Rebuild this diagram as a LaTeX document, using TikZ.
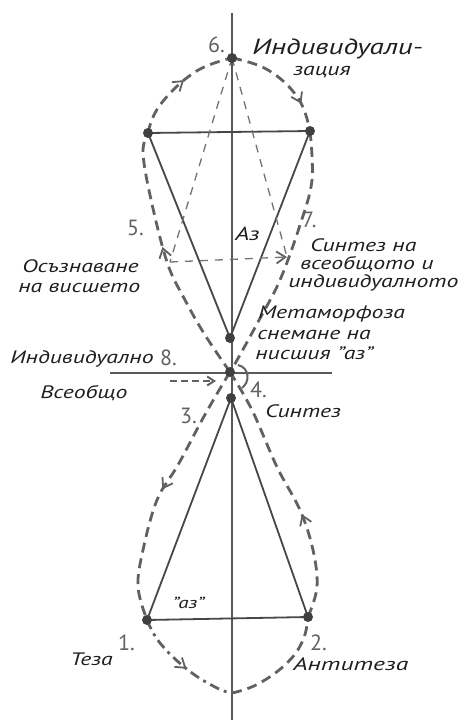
\documentclass[tikz,border=0pt]{standalone}
\usepackage{fontspec}
\setmainfont{PT Sans}
\usetikzlibrary{decorations.markings,arrows.meta}
\begin{document}
\begin{tikzpicture}[x=1pt,y=-1pt,
  solidline/.style={line width=1.8pt, draw=black!72},
  axisline/.style={line width=1.3pt, draw=black!65},
  thindash/.style={line width=1.3pt, draw=black!55, dash pattern=on 8pt off 7pt},
  loopline/.style={line width=2.8pt, draw=black!62, dash pattern=on 10pt off 6pt},
  dashdot/.style={line width=2.8pt, draw=black!62, dash pattern=on 10pt off 5pt on 3pt off 5pt},
  dot/.style={circle, fill=black!75, inner sep=0pt, minimum size=10pt},
  lbl/.style={font=\itshape\fontsize{18}{18}\selectfont, text=black!88, inner sep=0pt, anchor=base west, xscale=1.32, transform shape},
  num/.style={font=\fontsize{22}{22}\selectfont, text=black!62, inner sep=0pt, anchor=base west},
  barb/.style={line width=1.8pt, draw=black!62},
  midarrow/.style={postaction={decorate}, decoration={markings, mark=at position #1 with {\arrow[barb]{Straight Barb[length=9pt,width=12pt]}}}}
]
\useasboundingbox (0,0) rectangle (467,720);
% key points
\coordinate (axT) at (232,13);
\coordinate (axB) at (232,720);
\coordinate (hL) at (110,373);
\coordinate (hR) at (332,373);
\coordinate (top) at (232,58);
\coordinate (TL) at (148,133);
\coordinate (TR) at (310,131);
\coordinate (A) at (230,338);
\coordinate (C) at (230,372);
\coordinate (B) at (231,398);
\coordinate (BL) at (147,620);
\coordinate (BR) at (308,617);
\coordinate (bot) at (232,693);
\coordinate (L5) at (170,262);
\coordinate (R7) at (287,257);
\coordinate (sa) at (170,381);
\coordinate (sb) at (216,381);

% axes
\draw[axisline] (axT) -- (axB);
\draw[axisline] (hL) -- (hR);

% triangles
\draw[solidline] (TL) -- (TR) -- (A) -- cycle;
\draw[solidline] (B) -- (BL) -- (BR) -- cycle;

% inner thin dashed
\draw[thindash] (top) -- (L5);
\draw[thindash] (top) -- (R7);
\draw[thindash, midarrow=1] (L5) -- (R7);

% upper loop
\draw[loopline, midarrow=0.55] plot[smooth, tension=0.6] coordinates {(C) (205,335) (185,300) (167,262) (150,195) (143,152) (TL)};
\draw[loopline, midarrow=0.55] plot[smooth, tension=0.7] coordinates {(TL) (160,105) (195,72) (top)};
\draw[loopline, midarrow=0.75] plot[smooth, tension=0.7] coordinates {(top) (268,70) (298,98) (TR)};
\draw[loopline] plot[smooth, tension=0.6] coordinates {(TR) (312,180) (300,225) (280,280) (258,322) (236,362) (C)};

% lower loop
\draw[loopline, midarrow=0.5] plot[smooth, tension=0.6] coordinates {(C) (218,392) (202,420) (178,465) (157,500) (143,550) (138,587) (BL)};
\draw[dashdot, midarrow=0.55] plot[smooth, tension=0.7] coordinates {(BL) (160,643) (188,670) (217,688) (bot)};
\draw[loopline] plot[smooth, tension=0.7] coordinates {(bot) (258,684) (287,663) (303,640) (BR)};
\draw[loopline, midarrow=0.4] plot[smooth, tension=0.6] coordinates {(BR) (317,587) (313,550) (300,510) (277,467) (252,410) (C)};
\draw[line width=2pt, draw=black!62] (238,365) .. controls (250,368) and (250,382) .. (242,388);
\draw[line width=2pt, draw=black!62, dash pattern=on 7pt off 4pt, -{Straight Barb[length=7pt,width=9pt]}] (sa) -- (sb);

% dots
\foreach \p in {top,TL,TR,A,C,B,BL,BR} \node[dot] (d\p) at (\p) {};

% numbers
\node[num] (n6) at (208,52) {6.};
\node[num] (n5) at (127,235) {5.};
\node[num] (n7) at (302,227) {7.};
\node[num] (n8) at (160,365) {8.};
\node[num] (n4) at (250,397) {4.};
\node[num] (n3) at (180,423) {3.};
\node[num] (n1) at (118,650) {1.};
\node[num] (n2) at (310,650) {2.};

% labels
\node[lbl, font=\itshape\fontsize{22}{22}\selectfont] (t6a) at (252,54) {Индивидуали-};
\node[lbl] (t6b) at (293,75) {зация};
\node[lbl, font=\fontsize{19}{19}\selectfont\itshape] (tAz) at (235,240) {Аз};
\node[lbl] (t7a) at (310,251) {Синтез на};
\node[lbl] (t7b) at (300,269) {всеобщото и};
\node[lbl] (t7c) at (288,287) {индивидуалното};
\node[lbl] (t5a) at (22,272) {Осъзнаване};
\node[lbl] (t5b) at (18,292) {на висшето};
\node[lbl] (tMa) at (258,318) {Метаморфоза};
\node[lbl] (tMb) at (257,339) {снемане на};
\node[lbl] (tMc) at (255,359) {нисшия "аз"};
\node[lbl] (tInd) at (10,363) {Индивидуално};
\node[lbl] (tVs) at (40,398) {Всеобщо};
\node[lbl] (tSyn) at (265,417) {Синтез};
\node[lbl, font=\itshape\fontsize{16}{16}\selectfont] (taz) at (172,608) {"аз"};
\node[lbl] (tTe) at (70,665) {Теза};
\node[lbl, xscale=1.08] (tAn) at (293,670) {Антитеза};
\end{tikzpicture}
\end{document}
